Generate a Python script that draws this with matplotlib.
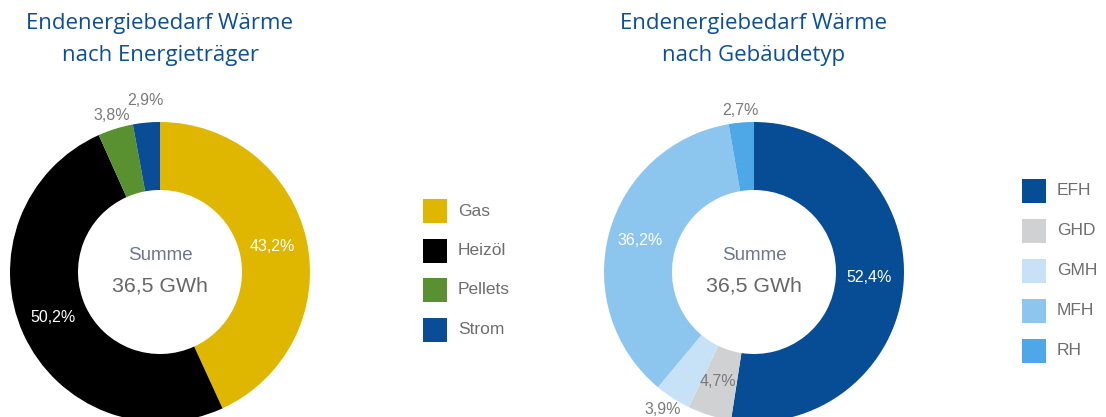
import matplotlib
matplotlib.use("Agg")
import matplotlib.pyplot as plt
from matplotlib.patches import Rectangle

# Endenergiebedarf Wärme, Anteile in Prozent
traeger = ["Gas", "Heizöl", "Pellets", "Strom"]
traeger_anteil = [43.2, 50.2, 3.8, 2.9]
traeger_farben = ["#E0B700", "#000000", "#5A9130", "#0B4C97"]

gebaeude = ["EFH", "GHD", "GMH", "MFH", "RH"]
gebaeude_anteil = [52.4, 4.7, 3.9, 36.2, 2.7]
gebaeude_farben = ["#074D96", "#D0D1D3", "#C7E1F6", "#8CC5EE", "#4EA7E7"]

summe = "36,5 GWh"

W, H = 1106, 417
TITLE_COLOR = "#0B4F9A"
GREY = "#6E6E6E"
LABEL_FONT = "Liberation Sans"
TITLE_FONT = "Open Sans"


def fmt(v):
    return f"{v:.1f}".replace(".", ",") + "%"


fig = plt.figure(figsize=(W / 100, H / 100), dpi=100)
ax = fig.add_axes([0, 0, 1, 1])


def donut(cx, cy, values, colors, title, label_pos, label_white):
    y = H - cy
    ax.pie(values, colors=colors, center=(cx, y), radius=150, startangle=90,
           counterclock=False, frame=True,
           wedgeprops=dict(width=68, linewidth=0))
    ax.text(cx, H - 23, title[0], ha="center", va="center", fontsize=16,
            color=TITLE_COLOR, family=TITLE_FONT)
    ax.text(cx, H - 55, title[1], ha="center", va="center", fontsize=16,
            color=TITLE_COLOR, family=TITLE_FONT)
    ax.text(cx, y + 17, "Summe", ha="center", va="center", fontsize=13.5,
            color="#6B7690", family=LABEL_FONT)
    ax.text(cx, y - 14, summe, ha="center", va="center", fontsize=15.3,
            color="#666666", family=LABEL_FONT)
    for v, (px, py), white in zip(values, label_pos, label_white):
        ax.text(px, H - py, fmt(v), ha="center", va="center", fontsize=11.5,
                color="white" if white else "#7A7A7A", family=LABEL_FONT)


def legend(x, y0, step, names, colors):
    for i, (n, c) in enumerate(zip(names, colors)):
        yc = H - (y0 + i * step)
        ax.add_patch(Rectangle((x, yc - 12), 24, 24, facecolor=c,
                               edgecolor="none"))
        ax.text(x + 35, yc, n, ha="left", va="center", fontsize=12.5,
                color=GREY, family=LABEL_FONT)


donut(160, 272, traeger_anteil, traeger_farben,
      ("Endenergiebedarf Wärme", "nach Energieträger"),
      [(272, 246), (53, 318), (112, 115), (145, 100)],
      [True, True, False, False])
donut(754, 272, gebaeude_anteil, gebaeude_farben,
      ("Endenergiebedarf Wärme", "nach Gebäudetyp"),
      [(869, 278), (718, 381), (663, 409), (640, 240), (740, 110)],
      [True, False, False, True, False])

legend(423, 211, 39.5, traeger, traeger_farben)
legend(1022, 190.5, 40, gebaeude, gebaeude_farben)

ax.set_xlim(0, W)
ax.set_ylim(0, H)
ax.set_aspect("auto")
ax.axis("off")

fig.savefig("out.png", dpi=100)
